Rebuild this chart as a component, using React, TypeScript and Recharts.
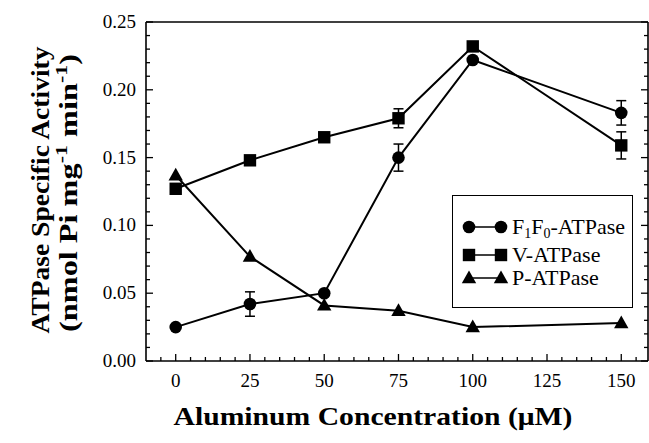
import React from "react";
import { LineChart, Line, XAxis, YAxis, ErrorBar, Legend } from "recharts";

const SERIF = '"Liberation Serif", "Times New Roman", serif';

// aluminum concentration (uM)
const CONC = [0, 25, 50, 75, 100, 150];

// specific activity (nmol Pi mg-1 min-1)
const F1F0 = [0.025, 0.042, 0.05, 0.15, 0.222, 0.183];
const F1F0_ERR = [0, 0.009, 0, 0.01, 0, 0.009];
const V_ATP = [0.127, 0.148, 0.165, 0.179, 0.232, 0.159];
const V_ERR = [0, 0, 0, 0.007, 0, 0.01];
const P_ATP = [0.137, 0.077, 0.041, 0.037, 0.025, 0.028];

const X_TICKS = [-5, 0, 5, 10, 15, 20, 25, 30, 35, 40, 45, 50, 55, 60, 65, 70, 75, 80, 85, 90, 95, 100, 105, 110, 115, 120, 125, 130, 135, 140, 145, 150, 155];
const X_LABELS = [0, 25, 50, 75, 100, 125, 150];
const Y_TICKS = [0, 0.01, 0.02, 0.03, 0.04, 0.05, 0.06, 0.07, 0.08, 0.09, 0.1, 0.11, 0.12, 0.13, 0.14, 0.15, 0.16, 0.17, 0.18, 0.19, 0.2, 0.21, 0.22, 0.23, 0.24, 0.25];
const Y_LABELS = [0, 0.05, 0.1, 0.15, 0.2, 0.25];

const f1Data = CONC.map((x, i) => ({ x, y: F1F0[i], err: F1F0_ERR[i] }));
const vData = CONC.map((x, i) => ({ x, y: V_ATP[i], err: V_ERR[i] }));
const pData = CONC.map((x, i) => ({ x, y: P_ATP[i] }));

const isMajorY = (v: number) => Y_LABELS.some((l) => Math.abs(l - v) < 1e-9);

const CircleMark = ({ cx, cy, r = 6.3 }: any) => <circle cx={cx} cy={cy} r={r} fill="#000" />;
const SquareMark = ({ cx, cy, s = 6.2 }: any) => <rect x={cx - s} y={cy - s} width={s * 2} height={s * 2} fill="#000" />;
const TriMark = ({ cx, cy }: any) => (
  <polygon points={`${cx},${cy - 7.5} ${cx - 7.2},${cy + 5.2} ${cx + 7.2},${cy + 5.2}`} fill="#000" />
);

const BottomTick = ({ x, y, payload }: any) => {
  const major = X_LABELS.includes(payload.value);
  return (
    <g>
      <line x1={x} x2={x} y1={y} y2={y - (major ? 7 : 4)} stroke="#000" strokeWidth={1.3} />
      {major && (
        <text x={x} y={y + 26} textAnchor="middle" fontFamily={SERIF} fontSize={19} fill="#000">
          {payload.value}
        </text>
      )}
    </g>
  );
};

const TopTick = ({ x, y, payload }: any) => {
  const major = X_LABELS.includes(payload.value);
  return <line x1={x} x2={x} y1={y} y2={y + (major ? 7 : 4)} stroke="#000" strokeWidth={1.3} />;
};

const LeftTick = ({ x, y, payload }: any) => {
  const major = isMajorY(payload.value);
  return (
    <g>
      <line x1={x} x2={x + (major ? 7 : 4)} y1={y} y2={y} stroke="#000" strokeWidth={1.3} />
      {major && (
        <text x={x - 10} y={y + 6} textAnchor="end" fontFamily={SERIF} fontSize={19} fill="#000">
          {payload.value.toFixed(2)}
        </text>
      )}
    </g>
  );
};

const RightTick = ({ x, y, payload }: any) => {
  const major = isMajorY(payload.value);
  return <line x1={x} x2={x - (major ? 7 : 4)} y1={y} y2={y} stroke="#000" strokeWidth={1.3} />;
};

const LEGEND_ROWS = [
  { key: "f1", top: 31, mark: CircleMark },
  { key: "v", top: 59, mark: SquareMark },
  { key: "p", top: 82, mark: TriMark },
];

const legendLabel = (key: string) => {
  if (key === "f1")
    return (
      <span>
        F<span style={{ fontSize: 14, verticalAlign: "-4px" }}>1</span>F
        <span style={{ fontSize: 14, verticalAlign: "-4px" }}>0</span>-ATPase
      </span>
    );
  if (key === "v") return <span>V-ATPase</span>;
  return <span>P-ATPase</span>;
};

const LegendBox = () => (
  <div
    style={{
      position: "relative",
      width: 181,
      height: 113,
      border: "1.5px solid #000",
      boxSizing: "border-box",
      background: "#fff",
      fontFamily: SERIF,
      fontSize: 22,
      color: "#000",
    }}
  >
    {LEGEND_ROWS.map((row) => {
      const Mark = row.mark;
      return (
        <div key={row.key} style={{ position: "absolute", left: 0, top: row.top - 14, height: 28, width: 181 }}>
          <svg width={60} height={28} style={{ position: "absolute", left: 0, top: 0 }}>
            <line x1={16} x2={48} y1={14} y2={14} stroke="#000" strokeWidth={1.5} />
            <Mark cx={16} cy={14} />
            <Mark cx={48} cy={14} />
          </svg>
          <div style={{ position: "absolute", left: 59, top: 0, lineHeight: "28px", whiteSpace: "nowrap" }}>
            {legendLabel(row.key)}
          </div>
        </div>
      );
    })}
  </div>
);

const axisLine = { stroke: "#000", strokeWidth: 1.6 };

export default function App() {
  return (
    <div style={{ position: "absolute", left: 0, top: 0, width: 649, height: 443, background: "#fff" }}>
      <LineChart width={649} height={443} margin={{ top: 21, right: 0, bottom: 81, left: 145 }}>
        <XAxis
          xAxisId="x"
          dataKey="x"
          type="number"
          domain={[-10, 159]}
          allowDataOverflow
          ticks={X_TICKS}
          interval={0}
          height={1}
          tickSize={0}
          tickMargin={0}
          tickLine={false}
          tick={BottomTick}
          axisLine={axisLine}
        />
        <XAxis
          xAxisId="top"
          orientation="top"
          type="number"
          domain={[-10, 159]}
          allowDataOverflow
          ticks={X_TICKS}
          interval={0}
          height={1}
          tickSize={0}
          tickMargin={0}
          tickLine={false}
          tick={TopTick}
          axisLine={axisLine}
        />
        <YAxis
          yAxisId="y"
          type="number"
          domain={[0, 0.25]}
          allowDataOverflow
          ticks={Y_TICKS}
          interval={0}
          width={1}
          tickSize={0}
          tickMargin={0}
          tickLine={false}
          tick={LeftTick}
          axisLine={axisLine}
        />
        <YAxis
          yAxisId="r"
          orientation="right"
          type="number"
          domain={[0, 0.25]}
          allowDataOverflow
          ticks={Y_TICKS}
          interval={0}
          width={1}
          tickSize={0}
          tickMargin={0}
          tickLine={false}
          tick={RightTick}
          axisLine={axisLine}
        />
        <Legend
          layout="horizontal"
          verticalAlign="middle"
          align="center"
          content={LegendBox}
          wrapperStyle={{ left: 452, top: 195, width: 181, height: 113 }}
        />
        <Line
          xAxisId="x"
          yAxisId="y"
          data={f1Data}
          dataKey="y"
          name="F1F0-ATPase"
          stroke="#000"
          strokeWidth={2}
          dot={(p: any) => <CircleMark key={p.index} cx={p.cx} cy={p.cy} />}
          isAnimationActive={false}
        >
          <ErrorBar dataKey="err" width={5} stroke="#000" strokeWidth={1.5} direction="y" />
        </Line>
        <Line
          xAxisId="x"
          yAxisId="y"
          data={vData}
          dataKey="y"
          name="V-ATPase"
          stroke="#000"
          strokeWidth={2}
          dot={(p: any) => <SquareMark key={p.index} cx={p.cx} cy={p.cy} />}
          isAnimationActive={false}
        >
          <ErrorBar dataKey="err" width={5} stroke="#000" strokeWidth={1.5} direction="y" />
        </Line>
        <Line
          xAxisId="x"
          yAxisId="y"
          data={pData}
          dataKey="y"
          name="P-ATPase"
          stroke="#000"
          strokeWidth={2}
          dot={(p: any) => <TriMark key={p.index} cx={p.cx} cy={p.cy} />}
          isAnimationActive={false}
        />
      </LineChart>
      <svg
        width={649}
        height={443}
        style={{ position: "absolute", left: 0, top: 0, pointerEvents: "none" }}
      >
        <text
          x={373}
          y={425}
          textAnchor="middle"
          fontFamily={SERIF}
          fontWeight="bold"
          fontSize={26}
          textLength={399}
          lengthAdjust="spacingAndGlyphs"
          fill="#000"
        >
          Aluminum Concentration (μM)
        </text>
        <text
          transform="translate(49,190) rotate(-90)"
          textAnchor="middle"
          fontFamily={SERIF}
          fontWeight="bold"
          fontSize={25}
          textLength={287}
          lengthAdjust="spacingAndGlyphs"
          fill="#000"
        >
          ATPase Specific Activity
        </text>
        <text
          transform="translate(77,193) rotate(-90)"
          textAnchor="middle"
          fontFamily={SERIF}
          fontWeight="bold"
          fontSize={25}
          textLength={278}
          lengthAdjust="spacingAndGlyphs"
          fill="#000"
        >
          (nmol Pi mg
          <tspan fontSize={17} dy={-10}>-1</tspan>
          <tspan dy={10}> min</tspan>
          <tspan fontSize={17} dy={-10}>-1</tspan>
          <tspan dy={10}>)</tspan>
        </text>
      </svg>
    </div>
  );
}
